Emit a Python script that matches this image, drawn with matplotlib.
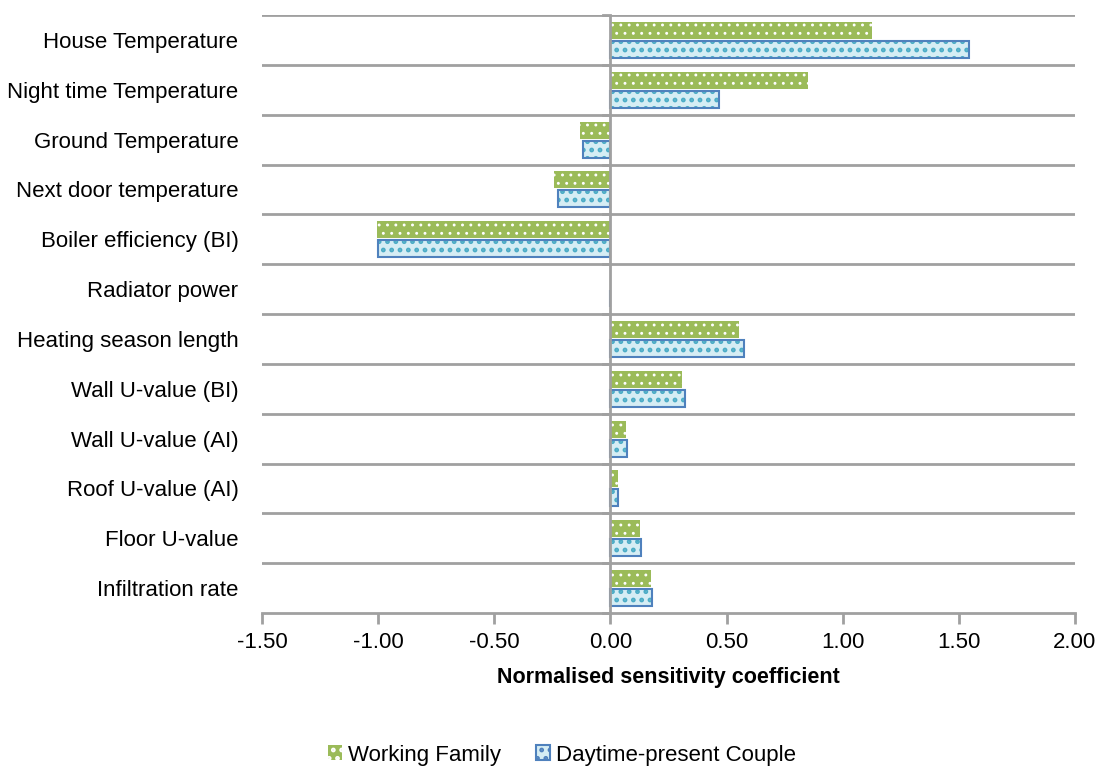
import matplotlib
matplotlib.use("Agg")
import matplotlib.pyplot as plt
from matplotlib.patches import Patch
import numpy as np

categories = ["House Temperature", "Night time Temperature", "Ground Temperature",
              "Next door temperature", "Boiler efficiency (BI)", "Radiator power",
              "Heating season length", "Wall U-value (BI)", "Wall U-value (AI)",
              "Roof U-value (AI)", "Floor U-value", "Infiltration rate"]
working_family = [1.127, 0.851, -0.129, -0.244, -1.004, 0.003, 0.555, 0.306, 0.069, 0.031, 0.126, 0.176]
daytime_couple = [1.544, 0.469, -0.118, -0.225, -1.000, 0.0, 0.577, 0.323, 0.072, 0.031, 0.133, 0.179]
xticks = [-1.5, -1.0, -0.5, 0.0, 0.5, 1.0, 1.5, 2.0]
series_names = ["Working Family", "Daytime-present Couple"]

plt.rcParams['font.family'] = ['Liberation Sans', 'DejaVu Sans']

GREEN = '#9BBB59'
BLUE_FACE = '#D5EDF4'
BLUE_HATCH = '#4BACC6'
BLUE_EDGE = '#4F81BD'
GRID = '#A0A0A0'
FS = 16

fig = plt.figure(figsize=(10.99, 7.69), dpi=100)
ax = fig.add_axes([262/1099, 1-613/769, (1075-262)/1099, (613-15)/769])

n = len(categories)
y = np.arange(n)
h = 0.34
off = 0.19

# green bars with white dot hatch
plt.rcParams['hatch.linewidth'] = 0.9
ax.barh(y - off, working_family, height=h, color=GREEN, edgecolor='white',
        hatch='..', linewidth=0, zorder=3)
green_handle = Patch(facecolor=GREEN, edgecolor='white', hatch='..', linewidth=0)
# blue bars: fill + hatch, then outline
plt.rcParams['hatch.linewidth'] = 2.2
ax.barh(y + off, daytime_couple, height=h, color=BLUE_FACE, edgecolor=BLUE_HATCH,
        hatch='..', linewidth=0, zorder=3)
blue_handle = Patch(facecolor=BLUE_FACE, edgecolor=BLUE_EDGE, hatch='..', linewidth=1.5)
ax.barh(y + off, daytime_couple, height=h, color='none', edgecolor=BLUE_EDGE,
        linewidth=1.5, zorder=4)

ax.set_xlim(-1.5, 2.0)
ax.set_ylim(n - 0.5, -0.5)

# horizontal gridlines at category boundaries
for b in np.arange(-0.5, n, 1.0):
    if b < n - 0.5:
        ax.axhline(b, color=GRID, linewidth=2, zorder=1)
    ax.plot([-0.03, 0], [b, b], color=GRID, linewidth=2, zorder=2, clip_on=False)

ax.axvline(0, color=GRID, linewidth=2, zorder=5)

for s in ['left', 'right', 'top']:
    ax.spines[s].set_visible(False)
ax.spines['bottom'].set_color(GRID)
ax.spines['bottom'].set_linewidth(2)

ax.set_xticks(xticks)
ax.set_xticklabels([f"{v:.2f}" for v in xticks], fontsize=FS)
ax.tick_params(axis='x', direction='out', length=8, width=2, color=GRID, pad=6)

ax.set_yticks(y)
ax.set_yticklabels(categories, fontsize=FS)
ax.tick_params(axis='y', length=0, pad=17)

ax.set_xlabel("Normalised sensitivity coefficient", fontsize=15.5, fontweight='bold', labelpad=10)

fig.legend([green_handle, blue_handle], series_names, loc='center',
           bbox_to_anchor=(562/1099, 1-755/769),
           ncol=2, frameon=False, fontsize=FS, handlelength=0.63, handleheight=0.63,
           handletextpad=0.25, columnspacing=1.6)

fig.savefig("out.png", dpi=100)
